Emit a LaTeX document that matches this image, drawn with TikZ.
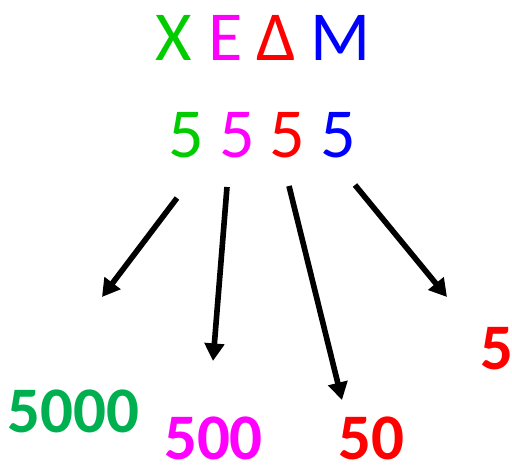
\documentclass[tikz,border=0pt]{standalone}
\usepackage{fontspec}
\setmainfont{Carlito}
\usetikzlibrary{arrows.meta}
\definecolor{cgreen}{HTML}{00CC00}
\definecolor{cmagenta}{HTML}{FF00FF}
\definecolor{cred}{HTML}{FF0000}
\definecolor{cblue}{HTML}{0000FF}
\definecolor{cdkgreen}{HTML}{00B050}
\tikzset{
	letter/.style={inner sep=0pt, font=\fontsize{40}{44}\selectfont},
	digit/.style={inner sep=0pt, font=\fontsize{40}{44}\selectfont},
	% values at the bottom
	value/.style={inner sep=0pt, font=\fontsize{37}{40}\selectfont\bfseries},
}

\begin{document}
\begin{tikzpicture}[x=0.02cm, y=-0.02cm]
		\useasboundingbox (0,0) rectangle (512,473);
		
		\node (X) [letter, cgreen] at (173.5,37.5) {X};
		\node (E) [letter, cmagenta] at (225.5,37.5) {E};
		\node (D) [letter, cred] at (276.5,37.5) {Δ};
		\node (M) [letter, cblue] at (341,37.5) {M};
		
		\node (d1) [digit, cgreen] at (186.5,135.5) {5};
		\node (d2) [digit, cmagenta] at (237,135.5) {5};
		\node (d3) [digit, cred] at (287,135.5) {5};
		\node (d4) [digit, cblue] at (338.5,135.5) {5};
		
		\node (thousands) [value, cdkgreen] at (73.5,411) {5000};
		\node (hundreds) [value, cmagenta] at (213.5,438) {500};
		\node (tens) [value, cred] at (371.5,438) {50};
		\node (units) [value, cred] at (496.5,349) {5};
		
		\coordinate (s1) at (177,198);
		\coordinate (t1) at (102,297);
		\coordinate (s2) at (227,187);
		\coordinate (t2) at (213,361);
		\coordinate (s3) at (289,186);
		\coordinate (t3) at (342,400);
		\coordinate (s4) at (355,185);
		\coordinate (t4) at (447,297);
		
		\begin{scope}[line width=3.2pt, black, -{Triangle[length=10pt, width=11pt]}]
			\draw (s1) -- (t1);
			\draw (s2) -- (t2);
			\draw (s3) -- (t3);
			\draw (s4) -- (t4);
		\end{scope}
	\end{tikzpicture}
\end{document}
